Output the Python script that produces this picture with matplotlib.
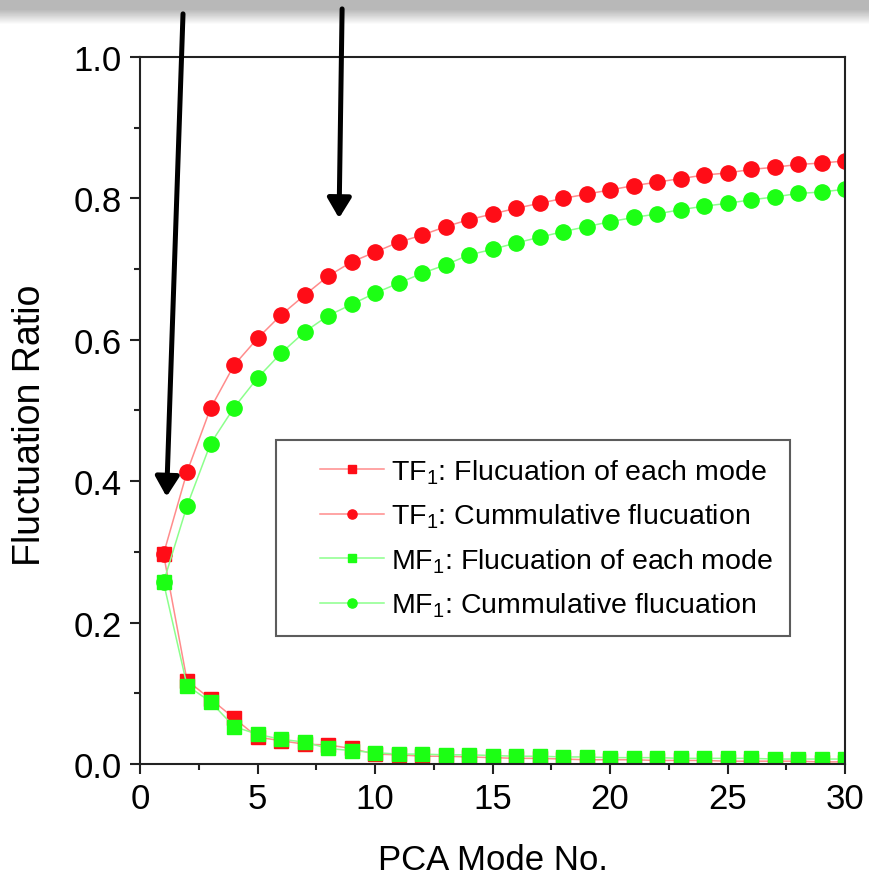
import numpy as np
import matplotlib
matplotlib.use("Agg")
import matplotlib.pyplot as plt
from matplotlib.ticker import MultipleLocator
from matplotlib.legend_handler import HandlerLine2D

plt.rcParams['font.family'] = ['Liberation Sans', 'DejaVu Sans']
plt.rcParams['mathtext.fontset'] = 'custom'
plt.rcParams['mathtext.rm'] = 'Liberation Sans'
plt.rcParams['mathtext.it'] = 'Liberation Sans'

# PCA mode numbers
modes = list(range(1, 31))

# TF1 values
tf_each = [0.297, 0.118, 0.092, 0.065, 0.038, 0.033, 0.028, 0.027, 0.022, 0.014,
           0.013, 0.011, 0.011, 0.010, 0.009, 0.008, 0.008, 0.007, 0.006, 0.006,
           0.006, 0.005, 0.005, 0.005, 0.004, 0.004, 0.004, 0.004, 0.003, 0.003]
tf_cum = [0.297, 0.413, 0.503, 0.564, 0.602, 0.635, 0.663, 0.690, 0.710, 0.724,
          0.738, 0.748, 0.760, 0.770, 0.778, 0.786, 0.793, 0.800, 0.806, 0.812,
          0.818, 0.823, 0.828, 0.833, 0.836, 0.841, 0.844, 0.848, 0.850, 0.853]

# MF1 values
mf_each = [0.257, 0.111, 0.088, 0.053, 0.042, 0.035, 0.031, 0.022, 0.019, 0.016,
           0.014, 0.014, 0.013, 0.013, 0.012, 0.011, 0.011, 0.010, 0.010, 0.009,
           0.009, 0.009, 0.008, 0.008, 0.008, 0.008, 0.007, 0.007, 0.007, 0.007]
mf_cum = [0.257, 0.365, 0.453, 0.504, 0.546, 0.581, 0.611, 0.634, 0.650, 0.666,
          0.680, 0.694, 0.706, 0.720, 0.728, 0.737, 0.745, 0.753, 0.760, 0.767,
          0.773, 0.778, 0.784, 0.789, 0.793, 0.798, 0.802, 0.807, 0.809, 0.813]

labels = ["TF$_1$: Flucuation of each mode",
          "TF$_1$: Cummulative flucuation",
          "MF$_1$: Flucuation of each mode",
          "MF$_1$: Cummulative flucuation"]

red = '#ff0d17'
red_line = '#ff8c8c'
green = '#1cff14'
green_line = '#8cff8c'

fig = plt.figure(figsize=(8.69, 8.79), dpi=100)

# grey band at the top of the slide screenshot
band = fig.add_axes([0, 1 - 26 / 879, 1, 26 / 879], zorder=-1)
grad = np.concatenate([np.full(10, 0.72), np.linspace(0.72, 1.0, 16)])[:, None]
band.imshow(np.repeat(grad, 2, axis=1), cmap='gray', vmin=0, vmax=1, aspect='auto')
band.axis('off')

ax = fig.add_axes([140 / 869, 1 - 765 / 879, 705 / 869, 707 / 879])

ax.plot(modes, tf_each, '-', color=red_line, lw=1.1, marker='s', ms=10,
        mfc=red, mec=red, label=labels[0])
ax.plot(modes, tf_cum, '-', color=red_line, lw=1.1, marker='o', ms=11,
        mfc=red, mec=red, label=labels[1])
ax.plot(modes, mf_each, '-', color=green_line, lw=1.1, marker='s', ms=10,
        mfc=green, mec=green, label=labels[2])
ax.plot(modes, mf_cum, '-', color=green_line, lw=1.1, marker='o', ms=11,
        mfc=green, mec=green, label=labels[3])

ax.set_xlim(0, 30)
ax.set_ylim(0, 1.0)
ax.xaxis.set_major_locator(MultipleLocator(5))
ax.xaxis.set_minor_locator(MultipleLocator(2.5))
ax.yaxis.set_major_locator(MultipleLocator(0.2))
ax.yaxis.set_minor_locator(MultipleLocator(0.1))
ax.tick_params(which='major', direction='out', length=7, width=1.5,
               labelsize=25, pad=6, color='#222222')
ax.tick_params(which='minor', direction='out', length=4, width=1.5, color='#222222')
for s in ax.spines.values():
    s.set_linewidth(1.5)
    s.set_color('#222222')

ax.set_xlabel("PCA Mode No.", fontsize=25, labelpad=20)
ax.set_ylabel("Fluctuation Ratio", fontsize=27)
ax.yaxis.set_label_coords(-0.13, 0.48)

leg = ax.legend(loc='upper left', bbox_to_anchor=(0.193, 0.458), fontsize=20.5,
                frameon=True, fancybox=False, edgecolor='#333333',
                handlelength=3.2, markerscale=0.6, labelspacing=0.56,
                borderpad=0.6, handletextpad=0.25, borderaxespad=0,
                handler_map={ax.lines[i]: HandlerLine2D(xpad=0.95) for i in range(4)})
leg.get_frame().set_linewidth(1.5)

# black arrows drawn over the slide
arrow = dict(arrowstyle='-|>,head_length=1.0,head_width=0.6', lw=3.6,
             color='black', mutation_scale=12, shrinkA=0, shrinkB=0)
ax.annotate('', xy=(1.13, 0.378), xytext=(1.83, 1.061), arrowprops=arrow,
            annotation_clip=False)
ax.annotate('', xy=(8.47, 0.772), xytext=(8.6, 1.068), arrowprops=arrow,
            annotation_clip=False)

fig.savefig('out.png', dpi=100)
